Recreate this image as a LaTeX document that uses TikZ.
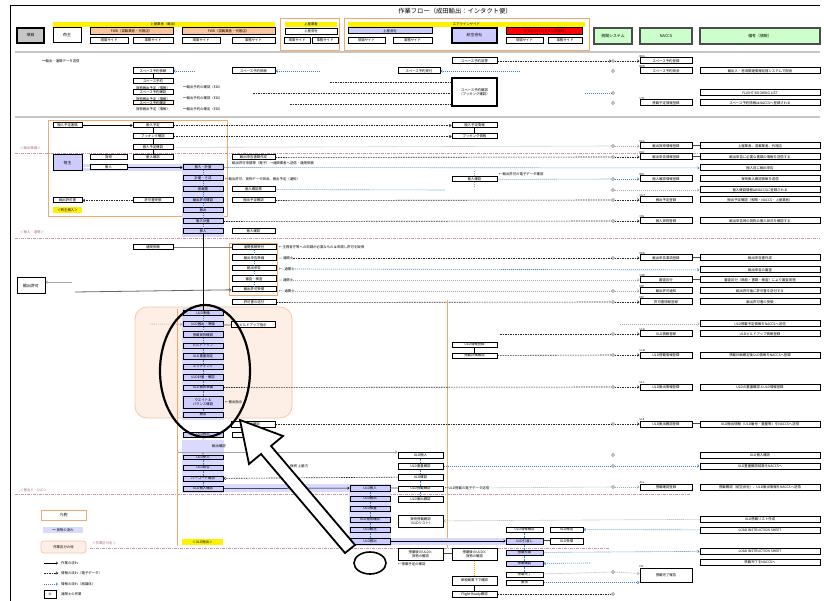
\documentclass[tikz,border=0pt]{standalone}
\usepackage{fontspec}
\setmainfont{Noto Sans CJK JP}
\usetikzlibrary{arrows.meta,calc}
\definecolor{lav}{HTML}{CCCCFF}
\definecolor{lavband}{HTML}{DADAFF}
\definecolor{peach}{HTML}{FDEFE6}
\definecolor{peachline}{HTML}{F6C6A6}
\definecolor{orfr}{HTML}{F4A96C}
\definecolor{salmon}{HTML}{F9C59E}
\definecolor{mint}{HTML}{CCFFCC}
\definecolor{pinkc}{HTML}{B0688E}
\definecolor{bluec}{HTML}{3C84D2}
\newcommand{\fs}{\fontsize{3.4}{3.9}\selectfont}
\newcommand{\fh}{\fontsize{3.9}{4.5}\selectfont}
% box from corner (x1,y1) to corner (x2,y2)
\newcommand{\bxn}[7][bx]{\node[#1,minimum width={(#5)-(#3)},minimum height={(#6)-(#4)}] (#2) at ({((#3)+(#5))/2},{((#4)+(#6))/2}) {#7};}
\tikzset{
  bx/.style={draw=black,line width=1pt,fill=white,inner sep=.2pt,align=center,font=\fs},
  pbx/.style={bx,fill=lav},
  sbx/.style={bx,line width=.9pt},
  gbx/.style={bx,fill=gray!45,font=\fh,line width=1.1pt},
  obx/.style={bx,fill=salmon},
  rbx/.style={bx,fill=red},
  gnb/.style={bx,fill=mint,font=\fh,draw=black!70,line width=1.1pt},
  ybar/.style={fill=yellow,inner sep=0pt,font=\fs,align=center},
  ofr/.style={draw=orfr,line width=.9pt,fill=none,inner sep=0pt},
  pzone/.style={draw=peachline,fill=peach,rounded corners=12pt,line width=.8pt,inner sep=0pt},
  band/.style={fill=lavband,draw=none,inner sep=0pt,font=\fs},
  circ/.style={circle,draw=gray,line width=.5pt,fill=white,inner sep=0pt,minimum size=3pt},
  tx/.style={font=\fs,inner sep=0pt,anchor=west},
  code/.style={font=\fontsize{2.6}{3}\selectfont,inner sep=0pt,anchor=south west},
  tip/.style={-{Straight Barb[length=1.6pt,width=2.6pt]}},
  dsh/.style={draw=black!85,line width=.6pt,dash pattern=on 1.5pt off 1pt},
  gdot/.style={draw=gray!70,line width=.6pt,dash pattern=on 1pt off 1pt},
  bdot/.style={draw=bluec,line width=.6pt,dash pattern=on 1pt off 1pt},
  pk/.style={draw=pinkc!70,line width=.9pt,dash pattern=on 3pt off 1pt on 1pt off 1pt},
  eq/.style={draw=black!70,double=white,double distance=.8pt,line width=.3pt},
  sep/.style={draw=gray!45,line width=2.5pt},
  flow/.style={draw=black,line width=.5pt},
  vlink/.style={draw=bluec,line width=.5pt,dash pattern=on .8pt off .8pt}
}
\begin{document}
\begin{tikzpicture}[x=1pt,y=-1pt]
\useasboundingbox (0,0) rectangle (824,601);
\fill[white] (0,0) rectangle (824,601);

% outer frame and title
\draw[line width=.8pt] (10,601) -- (10,5) -- (820,5);
\node[font=\fontsize{6.3}{7}\selectfont,inner sep=0pt] (title) at (455,11) {作業フロー（成田輸出：インタクト便）};

% ---------------- header row ----------------
\bxn[gbx]{hA}{17}{28}{44}{43}{項目}
\bxn[bx,font=\fh]{hB}{53}{28}{81}{43}{荷主}
\bxn[ybar]{hC}{53}{22}{275}{27}{上屋業者（輸出）}
\bxn[obx]{hD}{90}{28}{173}{35}{FWD（混載業者・代理店）}
\bxn[obx]{hE}{182}{28}{275}{35}{FWD（混載業者・代理店）}
\bxn[sbx]{hF}{90}{37}{128}{43}{現場サイド}
\bxn[sbx]{hG}{133}{37}{173}{43}{事務サイド}
\bxn[sbx]{hH}{182}{37}{220}{43}{現場サイド}
\bxn[sbx]{hI}{232}{37}{275}{43}{事務サイド}
\bxn[ofr]{fr1}{280}{18}{339}{50}{}
\bxn[ybar]{hJ}{285}{22}{337}{27}{上屋業者}
\bxn[sbx]{hK}{285}{28}{337}{34}{上屋会社}
\bxn[sbx]{hL}{284}{37}{310}{43}{現場サイド}
\bxn[sbx]{hM}{312}{37}{338}{43}{事務サイド}
\bxn[ofr]{fr2}{344}{18}{589}{50}{}
\bxn[ybar]{hN}{348}{22}{585}{27}{エアラインサイド}
\bxn[pbx]{hO}{348}{28}{432}{34}{上屋会社}
\bxn[sbx]{hP}{348}{37}{385}{43}{現場サイド}
\bxn[sbx]{hQ}{393}{37}{432}{43}{事務サイド}
\bxn[pbx,font=\fh,line width=1.1pt]{hR}{452}{28}{497}{43}{航空会社}
\bxn[rbx]{hS}{506}{28}{582}{35}{グランドハンドリング会社}
\bxn[sbx]{hT}{506}{37}{543}{43}{現場サイド}
\bxn[sbx]{hU}{548}{37}{582}{43}{事務サイド}
\bxn[gnb]{hV}{594}{28}{632}{44}{税関システム}
\bxn[gnb]{hW}{640}{28}{692}{44}{NACCS}
\bxn[gnb]{hX}{700}{28}{820}{44}{備考（情報）}

\draw[sep] (15,52) -- (820,52);
\draw[sep] (15,117) -- (820,117);

% ---------------- section separators (work areas) ----------------
\draw[pk] (15,153) -- (820,153);
\draw[pk] (15,238) -- (820,238);
\draw[pk] (15,494) -- (690,494);
\draw[pk] (90,548) -- (610,548);
\node[tx,text=pinkc] (lbA) at (20,148) {＜輸出準備＞};
\node[tx,text=pinkc] (lbB) at (20,232) {＜搬入・通関＞};
\node[tx,text=pinkc] (lbC) at (20,490) {＜搬出入・ULD＞};

% circles in the customs-system column
\foreach \yy in {61,71,93,103,146,157,179,190,200,221,258,291,302,334,355,387,424,455,466,487,572,594}
  \node[circ] (o\yy) at (613,\yy) {};

% ---------------- NACCS column ----------------
\bxn{n61}{640}{58}{692}{64}{スペース予約登録}
\bxn{n71}{640}{68}{692}{74}{スペース予約照会}
\bxn{n103}{640}{100}{692}{106}{搭載予定情報登録}
\bxn{n146}{640}{143}{692}{149}{輸出貨物情報登録}
\bxn{n157}{640}{154}{692}{160}{輸出申告情報登録}
\bxn{n179}{640}{176}{692}{182}{搬入確認情報登録}
\bxn{n200}{640}{197}{692}{203}{搬出予定登録}
\bxn{n221}{640}{218}{692}{224}{搬入貨物登録}
\bxn{n258}{640}{255}{692}{261}{輸出申告事項登録}
\bxn{n280}{640}{277}{692}{283}{審査区分}
\bxn{n291}{640}{288}{692}{294}{輸出許可通知}
\bxn{n302}{640}{299}{692}{305}{許可書情報登録}
\bxn{n334}{640}{331}{692}{337}{ULD情報登録}
\bxn{n355}{640}{352}{692}{358}{ULD搭載情報登録}
\bxn{n387}{640}{384}{692}{390}{ULD搬出情報登録}
\bxn{n424}{640}{421}{692}{427}{ULD搬出確認登録}
\bxn{n487}{640}{484}{692}{490}{搭載確認登録}
\bxn{n574}{640}{568}{692}{582}{搭載完了報告}
\foreach \nn/\cc in {n61/BKA,n71/BKB,n103/UTC,n146/EDA,n157/EDC,n179/BIN,n200/OUT,n221/CIN,n258/EDB,n280/CHK,n291/EXP,n302/EXC,n334/ULD,n355/ULM,n387/ULC,n424/ULE,n487/ACL,n574/FLT}
  \node[code] at (\nn.north west) {\cc};

% ---------------- remarks column ----------------
\bxn{r71}{700}{68}{820}{74}{輸出入・港湾関連情報処理システムで照会}
\bxn{r93}{700}{90}{820}{96}{FLIGHT BOOKING LIST}
\bxn{r103}{700}{100}{820}{106}{スペース予約情報はNACCSへ登録される}
\bxn{r146}{700}{143}{820}{149}{上屋業者、混載業者、代理店}
\bxn{r157}{700}{154}{820}{160}{輸出申告に必要な書類の情報を送信する}
\bxn{r168}{700}{165}{820}{171}{搬入前に輸出申告}
\bxn{r179}{700}{176}{820}{182}{貨物搬入確認情報を送信}
\bxn{r190}{700}{187}{820}{193}{搬入確認情報はNACCSに登録される}
\bxn{r200}{700}{197}{820}{203}{搬出予定確認（税関・NACCS・上屋業者）}
\bxn{r221}{700}{218}{820}{224}{輸出申告時の貨物の搬入状況を確認する}
\bxn{r258}{700}{255}{820}{261}{輸出申告書作成}
\bxn{r270}{700}{267}{820}{273}{輸出申告の審査}
\bxn{r280}{700}{277}{820}{283}{審査区分（簡易・書類・検査）により審査実施}
\bxn{r291}{700}{288}{820}{294}{輸出許可後に許可書を送付する}
\bxn{r302}{700}{299}{820}{305}{輸出許可書の受領}
\bxn{r324}{700}{321}{820}{327}{ULD搭載予定情報をNACCSへ送信}
\bxn{r334}{700}{331}{820}{337}{ULDビルドアップ情報登録}
\bxn{r355}{700}{352}{820}{358}{搭載計画確定後ULD情報をNACCSへ登録}
\bxn{r387}{700}{384}{820}{390}{ULDの重量確認とULD情報登録}
\bxn{r424}{700}{421}{820}{427}{ULD搬出情報（ULD番号・重量等）をNACCSへ送信}
\bxn{r455}{700}{452}{820}{458}{ULD搬入確認}
\bxn{r466}{700}{463}{820}{469}{ULD重量確認結果をNACCSへ}
\bxn{r487}{700}{484}{820}{490}{搭載確認（航空会社）、ULD搬出情報をNACCSへ送信}
\bxn{r519}{700}{516}{820}{522}{ULD搭載リスト作成}
\bxn{r530}{700}{527}{820}{533}{LOAD INSTRUCTION SHEET}
\bxn{r551}{700}{548}{820}{554}{LOAD INSTRUCTION SHEET}
\bxn{r562}{700}{559}{820}{565}{搭載完了をNACCSへ}
\foreach \nn/\rr in {n146/r146,n157/r157,n258/r258,n280/r280,n424/r424}
  \draw[eq] (\nn) -- (\rr);

% ---------------- booking section ----------------
\node[tx] (t0) at (42,61) {━輸出・通関データ送信};
\bxn{u1}{133}{68}{173}{74}{スペース予約依頼}
\bxn{u2}{232}{68}{275}{74}{スペース予約依頼}
\bxn{u3}{398}{68}{440}{74}{スペース予約受付}
\bxn{u4}{452}{58}{497}{64}{スペース予約回答}
\bxn[bx,line width=1.1pt]{u5}{452}{78}{497}{106}{スペース予約確認\\（ブッキング確認）}
\bxn{u6}{133}{79}{173}{84}{スペース予約}
\bxn{u7}{133}{90}{173}{95}{スペース予約確認}
\bxn[bx,draw=black,fill=peach]{u8}{133}{101}{173}{105}{スペース予約確定}
\node[font=\fs,inner sep=0pt] (u6c) at (153,88) {貨物搬出予定（情報）};
\node[font=\fs,inner sep=0pt] (u7c) at (153,99) {貨物搬出予定（情報）};
\node[font=\fs,inner sep=0pt] (u8c) at (153,109) {貨物搬出予定（情報）};
\node[tx] (u6t) at (183,87) {━輸出予約の確認（EDI）};
\node[tx] (u7t) at (183,98) {━輸出予約の確認（EDI）};
\node[tx] (u8t) at (183,109) {━輸出予約の確定（EDI）};
\draw[flow] (u1) -- (u6);
\coordinate (u1e) at (195,71); \coordinate (u2e) at (320,71); \coordinate (u3e) at (520,71);
\draw[bdot,tip] (u1e) -- (u1.east);
\draw[bdot,tip] (u2e) -- (u2.east);
\draw[bdot,tip] (u3e) -- (u3.east);
\draw[dsh,tip] (u4) -- (o61);
\draw[dsh,tip] (o61) -- (n61);
\coordinate (k82) at (330,82); \coordinate (k93) at (253,93); \coordinate (k104) at (290,104);
\draw[dsh] (k82) -- (u5.west |- k82);
\draw[dsh] (k93) -- (u5.west |- k93);
\draw[dsh] (k104) -- (u5.west |- k104);
\coordinate (k93b) at (585,93);
\draw[bdot] (k93b) -- (o93);

% ---------------- export preparation section ----------------
\bxn[ofr]{frA}{48}{120}{227}{216}{}
\bxn[band]{bandA}{82}{164}{223}{171}{}
\bxn[band]{bandB}{182}{163}{224}{237}{}
\bxn{ma1}{53}{123}{82}{128}{搬入予定連絡}
\bxn{mb1}{133}{123}{173}{128}{搬入予定}
\bxn{mb2}{133}{134}{173}{139}{ブッキング確認}
\bxn{mb3}{133}{145}{173}{150}{搬入予定確認}
\bxn{mb4}{133}{155}{173}{160}{搬入確認}
\bxn{mf1}{452}{123}{497}{128}{搬入予定情報}
\bxn{mf2}{452}{134}{497}{139}{ブッキング情報}
\bxn[pbx,font=\fh]{ma3}{53}{155}{82}{171}{荷主}
\bxn{mx1}{90}{155}{127}{160}{貨物}
\bxn{mx2}{90}{165}{127}{170}{搬入}
\bxn{md1}{232}{155}{275}{160}{輸出申告書類作成}
\node[tx] (md1t) at (232,163) {輸出許可申請等（電子）→通関業者へ送信・通関依頼};
\bxn[pbx]{mc1}{183}{165}{223}{170}{搬入・計量}
\bxn[pbx]{mc2}{183}{176}{223}{181}{計量・寸法}
\node[tx] (mc2t) at (225,179) {←輸出許可、貨物データ照会、搬出予定（通知）};
\bxn{mf3}{452}{177}{497}{182}{搬入確認}
\node[tx] (mf3t) at (499,174) {←輸出許可の電子データ確認};
\bxn[pbx]{mc3}{183}{187}{223}{192}{仮蔵置}
\bxn{md2}{232}{187}{275}{192}{搬入確認票}
\bxn{ma4}{53}{198}{82}{203}{輸出許可書}
\bxn{mb5}{133}{198}{173}{203}{許可書受領}
\bxn[pbx]{mc4}{183}{198}{223}{203}{輸出許可確認}
\bxn{md3}{232}{198}{275}{203}{搬出予定確認}
\bxn[ybar]{my1}{53}{207}{82}{213}{＜荷主搬入＞}
\bxn[pbx]{mc5}{183}{208}{223}{213}{搬出}
\bxn[pbx]{mc6}{183}{219}{223}{224}{搬入計量}
\bxn[pbx]{mc7}{183}{229}{223}{234}{搬入}
\bxn{md4}{232}{229}{275}{234}{搬入確認}

\draw[flow,tip] (ma1) -- (mb1);
\draw[flow] (mb1) -- (mb2); \draw[flow] (mb2) -- (mb3); \draw[flow] (mb3) -- (mb4);
\draw[flow] (mf1) -- (mf2);
\draw[dsh,tip] (mb1) -- (mf1);
\draw[dsh,tip] (mb2) -- (mf2);
\draw[eq] (ma3.east |- mx1) -- (mx1); \draw[eq] (mx1) -- (mb4);
\draw[eq] (ma3.east |- mx2) -- (mx2);
\draw[flow,tip] (mx2) -- (mc1);
\foreach \a/\b in {mc1/mc2,mc2/mc3,mc3/mc4,mc4/mc5,mc5/mc6,mc6/mc7} \draw[vlink] (\a) -- (\b);
\draw[gdot] (mb3) -- (o146); \draw[gdot,tip] (o146) -- (n146);
\draw[dsh] (md1) -- (o157); \draw[dsh,tip] (o157) -- (n157);
\draw[bdot,tip] (mc1) -- (r168);
\draw[gdot] (mf3.north) -- ++(0,-5); \draw[gdot] (mf3.south) -- ++(0,5);
\draw[bdot] (mf3) -- (o179); \draw[bdot,tip] (o179) -- (n179);
\coordinate (k190) at (445,190);
\draw[bdot] (md2) -- (k190);
\draw[gdot,tip] (o190) -- (r190);
\draw[dsh,tip] (mb5) -- (ma4);
\draw[eq] (mb5) -- (mc4);
\draw[dsh] (md3) -- (o200); \draw[dsh,tip] (o200) -- (n200);
\draw[dsh] (mc6) -- (o221); \draw[dsh,tip] (o221) -- (n221);
\draw[eq] (mc7) -- (md4);

% ---------------- customs clearance section ----------------
\bxn[ofr]{frD}{229}{243}{277}{295}{}
\bxn{mb6}{133}{245}{173}{250}{通関依頼}
\bxn{md5}{232}{245}{276}{250}{通関依頼受付}
\bxn{md6}{232}{255}{276}{261}{輸出申告準備}
\bxn{md7}{232}{266}{276}{271}{輸出申告}
\bxn{md8}{232}{276}{276}{282}{審査・検査}
\bxn{md9}{232}{287}{276}{292}{輸出許可受領}
\bxn{md10}{232}{300}{276}{305}{許可書の送付}
\bxn[bx,font=\fh]{mk1}{17}{278}{45}{294}{輸出許可}
\node[tx] (md5t) at (279,247) {←主務官庁等への申請が必要なものは申請し許可を取得};
\node[tx] (md6t) at (279,258) {--- 通関士};
\node[tx] (md7t) at (279,269) {←- 通関士};
\node[tx] (md8t) at (279,280) {--- 通関士};
\node[tx] (md9t) at (279,291) {←- 通関士};
\draw[draw=gray,line width=.7pt] (mb6) -- (md5);
\foreach \a/\b in {md5/md6,md6/md7,md7/md8,md8/md9} \draw[vlink] (\a) -- (\b);
\coordinate (k282) at (72,282); \coordinate (k292) at (75,292);
\draw[draw=gray!70,line width=.7pt,tip] (k282) -- (mk1.east |- k282);
\draw[draw=gray!80!black,line width=.8pt,tip] (k292) -- (md9);
\draw[dsh] (md6t) -- (o258); \draw[dsh,tip] (o258) -- (n258);
\draw[bdot,tip] (md7t) -- (r270);
\draw[gdot,tip] (md8t) -- (n280);
\draw[gdot] (md9t) -- (o291); \draw[gdot,tip] (o291) -- (n291);
\draw[dsh] (md10) -- (o302); \draw[dsh,tip] (o302) -- (n302);

% ---------------- ULD build-up zone ----------------
\bxn[pzone]{zone}{135}{307}{292}{418}{}
\bxn[band]{bandC}{182}{308}{224}{420}{}
\draw[draw=orfr,line width=.9pt] (177,309) -- (177,546);
\draw[draw=orfr,line width=.9pt] (447,300) -- (447,548);
\bxn[pbx]{p1}{183}{311}{223}{316}{ULD準備}
\bxn[pbx]{p2}{183}{322}{223}{327}{ULD搬出・準備}
\bxn[pbx]{p3}{183}{332}{223}{338}{搭載貨物確認}
\bxn[pbx]{p4}{183}{343}{223}{348}{ビルドアップ}
\bxn[pbx]{p5}{183}{353}{223}{359}{ULD重量測定}
\bxn[pbx]{p6}{183}{364}{223}{369}{ネッティング}
\bxn[pbx]{p7}{183}{374}{223}{380}{ULD計量・確認}
\bxn[pbx]{p8}{183}{385}{223}{390}{ULD搬出準備}
\bxn[pbx]{p9}{183}{396}{223}{408}{ウエイト＆\\バランス確認}
\bxn[pbx]{p10}{183}{412}{223}{417}{搬出}
\bxn{pd1}{231}{322}{275}{328}{ビルドアップ指示}
\node[tx] (p9t) at (225,402) {←搬出指示};
\bxn{pf1}{452}{342}{497}{347}{ULD情報登録}
\bxn{pf2}{452}{353}{497}{358}{搭載計画確認}
\draw[flow,line width=.8pt] (mc7) -- (p1);
\foreach \a/\b in {p1/p2,p2/p3,p3/p4,p4/p5,p5/p6,p6/p7,p7/p8,p8/p9,p9/p10} \draw[vlink] (\a) -- (\b);
\coordinate (k324) at (150,324);
\draw[gdot,tip] (k324) -- (p2);
\draw[eq] (p2) -- (pd1);
\coordinate (k324b) at (620,324);
\draw[gdot,tip] (k324b) -- (r324);
\coordinate (k334) at (500,334);
\draw[dsh] (k334) -- (o334); \draw[dsh,tip] (o334) -- (n334);
\draw[flow] (pf1) -- (pf2);
\draw[dsh] (pf2) -- (o355); \draw[dsh,tip] (o355) -- (n355);
\draw[dsh] (p8) -- (o387); \draw[dsh,tip] (o387) -- (n387);

% ---------------- ULD hand-over section ----------------
\bxn[band]{bandD}{182}{440}{224}{493}{}
\bxn[band]{bandE}{224}{484}{350}{492}{}
\bxn[band]{bandF}{349}{484}{391}{546}{}
\bxn[band]{bandG}{391}{538}{508}{545}{}
\bxn{qd1}{231}{421}{275}{427}{搬出確認}
\bxn[pbx]{qc1}{183}{432}{223}{437}{ULD搬出}
\bxn{qd2}{232}{432}{275}{437}{搬出確認}
\bxn[pbx]{qc2}{183}{455}{223}{459}{ULD受入}
\bxn[pbx]{qc3}{183}{465}{223}{470}{ULD照合}
\bxn[pbx]{qc4}{183}{476}{223}{481}{バーコード確認}
\bxn[pbx]{qc5}{183}{486}{223}{491}{ULD搬入確認}
\node[tx] (qct) at (212,446) {輸出確認};
\node[tx] (qt2) at (290,466) {保税 上屋内};
\bxn{qe1}{398}{452}{443}{458}{ULD搬入}
\bxn{qe2}{398}{463}{443}{469}{ULD重量確認}
\bxn{qe3}{398}{474}{443}{480}{ULD確認}
\bxn{qe4}{398}{486}{443}{491}{ULD搭載確認}
\bxn{qe5}{398}{496}{443}{502}{ULD搬出確認}
\bxn{qe6}{398}{515}{443}{527}{貨物搭載確認\\（ULDリスト）}
\bxn{qe7}{398}{548}{443}{560}{搭載後のULDと\\貨物の確認}
\bxn{qf7}{452}{548}{497}{560}{搭載後のULDと\\貨物の確認}
\node[tx] (qe7t) at (398,564) {←搭載予定の確認};
\bxn[pbx]{qce1}{350}{485}{390}{491}{ULD搬入}
\bxn[pbx]{qce2}{350}{496}{390}{501}{ULD搬出}
\bxn[pbx]{qce3}{350}{506}{390}{511}{ULD検量}
\bxn[pbx]{qce4}{350}{517}{390}{522}{ULD搬出確認}
\bxn[pbx]{qce5}{350}{527}{390}{532}{ULD輸送}
\bxn[pbx]{qce6}{350}{538}{390}{544}{ULD搬出}
\bxn{qg1}{506}{527}{543}{532}{ULD情報確認}
\bxn{qg1b}{550}{527}{583}{532}{ULD搬送}
\bxn[pbx]{qg2}{506}{538}{543}{544}{ULD引渡し}
\bxn{qg2b}{550}{538}{583}{544}{ULD受領}
\bxn[pbx]{qg3}{506}{550}{543}{555}{搭載作業}
\bxn[pbx]{qg4}{506}{561}{543}{566}{搭載確認}
\bxn{qg5}{506}{572}{543}{577}{搭載完了}
\bxn{qf8}{452}{576}{497}{585}{保税蔵置下で確認}
\bxn{qg6}{506}{580}{543}{585}{搬出}
\bxn{qf9}{452}{591}{497}{597}{Flight Ready確認}
\node[tx] (qe4t) at (445,488) {←ULD搭載の電子データ送信};
\bxn[ybar]{my2}{182}{539}{223}{545}{＜ULD搬出＞}

\draw[dsh] (qd1) -- (o424); \draw[dsh,tip] (o424) -- (n424);
\draw[eq] (qc1) -- (qd2);
\draw[draw=gray,double=lavband,double distance=2pt,line width=.4pt,tip] (qc1) -- (qc2);
\coordinate (k452) at (178,452);
\draw[draw=gray!70,line width=.8pt,tip] (k452) -- (qe1.west |- k452);
\foreach \a/\b in {qc2/qc3,qc3/qc4,qc4/qc5,qe1/qe2,qe2/qe3,qe3/qe4,qe4/qe5,qce1/qce2,qce2/qce3,qce3/qce4,qce4/qce5,qce5/qce6,qg1/qg2,qg2/qg3,qg3/qg4,qg4/qg5} \draw[vlink] (\a) -- (\b);
\draw[dsh,tip] (qe3) -- (qc4);
\draw[flow,tip] (qc5) -- (qce1);
\draw[eq] (qce1) -- (qe4);
\draw[bdot] (qe2) -- (o466); \draw[bdot,tip] (o466) -- (r466);
\draw[gdot] (qe4t) -- (o487); \draw[gdot,tip] (o487) -- (n487);
\draw[gdot,tip] (r519) -- (qe6);
\draw[eq] (qg1) -- (qg1b); \draw[eq] (qg2) -- (qg2b);
\draw[bdot,tip] (r530) -- (qg1b);
\draw[flow,tip] (qce6) -- (qg2);
\draw[eq] (qe7) -- (qf7);
\draw[bdot,tip] (qg3) -- (r551);
\coordinate (k563) at (590,563);
\draw[bdot,tip] (k563) -- (qg4);
\draw[gdot] (qg5) -- (o572); \draw[gdot,tip] (o572) -- (n574);
\draw[bdot,tip] (qg6) -- (n574.west |- qg6);
\draw[eq] (qf8) -- (qg6.west |- qf8);
\draw[draw=orange!70!yellow,line width=.6pt,dash pattern=on 1pt off 1pt] (qf7) -- (qf8);
\draw[flow] (qf8) -- (qf9);
\draw[dsh] (qf9) -- (o594);

% ---------------- legend ----------------
\bxn[bx,draw=orfr,line width=.9pt,font=\fh]{L0}{41}{510}{86}{520}{凡例}
\bxn[band]{L1}{43}{527}{83}{533}{━ 貨物の流れ}
\bxn[pzone,rounded corners=3pt,font=\fs]{L2}{41}{541}{86}{553}{作業区分の枠}
\node[tx,text=pinkc] (L2t) at (92,543) {＜作業区分名＞};
\coordinate (l3a) at (44,563); \coordinate (l3b) at (58,563);
\coordinate (l4a) at (44,573); \coordinate (l4b) at (58,573);
\coordinate (l5a) at (44,584); \coordinate (l5b) at (58,584);
\draw[flow,tip] (l3a) -- (l3b);
\draw[dsh,tip] (l4a) -- (l4b);
\draw[bdot,tip] (l5a) -- (l5b);
\node[tx] (L3) at (61,563) {作業の流れ};
\node[tx] (L4) at (61,573) {情報の流れ（電子データ）};
\node[tx] (L5) at (61,584) {情報の流れ（紙媒体）};
\bxn[bx,line width=.6pt]{L6}{44}{590}{56}{598}{士}
\node[tx] (L6t) at (61,594) {通関士の作業};

% ---------------- highlight: ellipse, pointer arrow, marker ----------------
\draw[black,line width=2.2pt] (205,371) ellipse [x radius=45, y radius=66];
\coordinate (aT) at (240,420);
\draw[black,line width=1.8pt,fill=white,line join=miter]
  (aT) -- (283,436) -- (271,446) -- (355,545) -- (345,553) -- (261,454) -- (249,464) -- cycle;
\draw[black,line width=1.6pt] (370,563) ellipse [x radius=16, y radius=11];
\end{tikzpicture}
\end{document}
